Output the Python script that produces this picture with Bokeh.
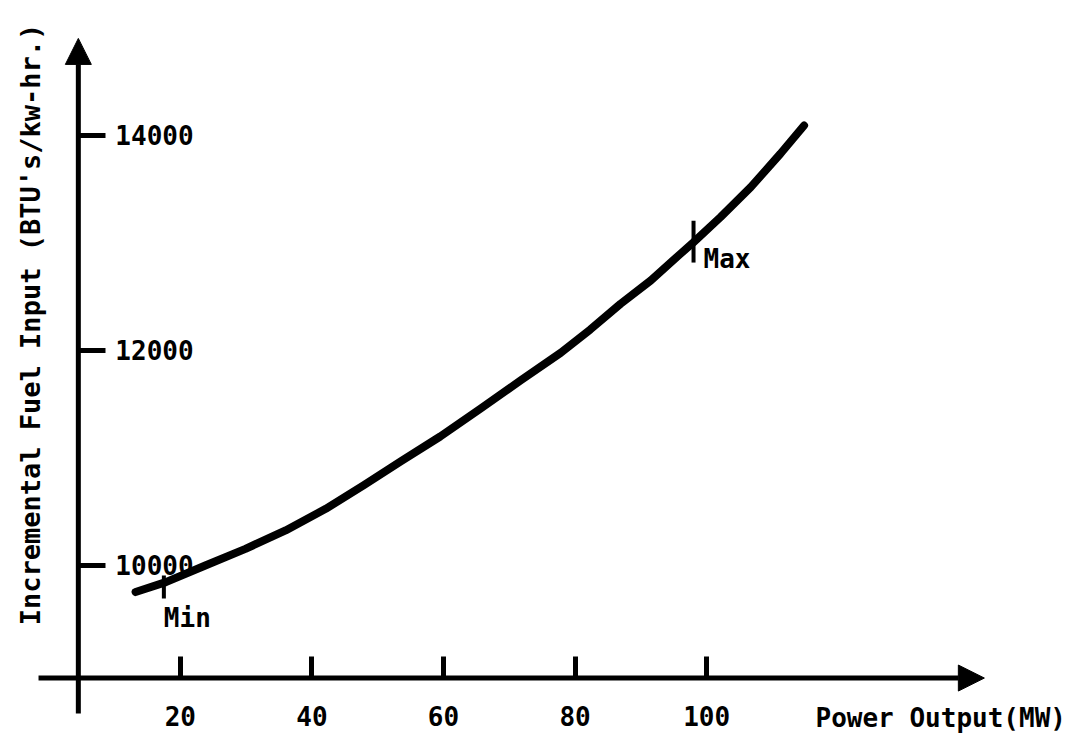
import math
from bokeh.plotting import figure
from bokeh.models import LinearAxis, FixedTicker, Arrow, NormalHead, Label, Range1d
from bokeh.core.properties import value
from bokeh.embed import file_html
from bokeh.resources import INLINE

# ---- data ----
power_mw = [13.2, 17.8, 23.8, 29.9, 36.0, 42.1, 47.9, 53.5, 59.5, 65.6, 71.7,
            77.8, 82.3, 86.9, 91.5, 96.0, 98.0, 102.1, 106.7, 111.2, 114.8]
fuel_btu = [9750, 9842, 9997, 10152, 10323, 10524, 10745, 10965, 11197, 11455, 11718,
            11975, 12192, 12431, 12648, 12896, 13004, 13237, 13516, 13827, 14090]
x_ticks = [20, 40, 60, 80, 100]
y_ticks = [10000, 12000, 14000]
marker_names = ["Min", "Max"]
marker_mw = [17.5, 98]
marker_low = [9690, 12815]
marker_high = [9905, 13205]
x_title = "Power Output(MW)"
y_title = "Incremental Fuel Input (BTU's/kw-hr.)"

FONT = "DejaVu Sans Mono"

# axis geometry (data units)
x_axis_at = 8950      # fuel value where the horizontal axis sits
y_axis_at = 4.5       # MW value where the vertical axis sits
x_axis_from, x_axis_to = -1.55, 142.2
y_axis_from, y_axis_to = 8620, 14900

p = figure(width=1079, height=748, output_backend="svg", toolbar_location=None,
           x_axis_type=None, y_axis_type=None,
           x_range=Range1d(-7.33, 156.66), y_range=Range1d(8294.7, 15252.7),
           min_border=0)
p.outline_line_color = None
p.grid.visible = False
p.background_fill_color = "white"
p.border_fill_color = "white"

# axis lines with arrow heads
p.add_layout(Arrow(end=NormalHead(size=26, fill_color="black", line_color="black", line_width=1),
                   x_start=x_axis_from, y_start=x_axis_at, x_end=x_axis_to, y_end=x_axis_at,
                   line_width=5, line_color="black"))
p.add_layout(Arrow(end=NormalHead(size=26, fill_color="black", line_color="black", line_width=1),
                   x_start=y_axis_at, y_start=y_axis_from, x_end=y_axis_at, y_end=y_axis_to,
                   line_width=5, line_color="black"))

# horizontal axis ticks + labels
xaxis = LinearAxis(fixed_location=x_axis_at, ticker=FixedTicker(ticks=x_ticks))
xaxis.axis_line_color = None
xaxis.major_tick_in = 22
xaxis.major_tick_out = 0
xaxis.minor_tick_line_color = None
xaxis.major_tick_line_width = 5
xaxis.major_tick_line_color = "black"
xaxis.major_label_standoff = 28
xaxis.major_label_text_font = FONT
xaxis.major_label_text_font_style = "bold"
xaxis.major_label_text_font_size = "26px"
xaxis.major_label_text_color = "black"
p.add_layout(xaxis, "below")

# vertical axis ticks + labels (labels to the right of the axis)
yaxis = LinearAxis(fixed_location=y_axis_at, ticker=FixedTicker(ticks=y_ticks))
yaxis.axis_line_color = None
yaxis.major_tick_in = 0
yaxis.major_tick_out = 27
yaxis.minor_tick_line_color = None
yaxis.major_tick_line_width = 5
yaxis.major_tick_line_color = "black"
yaxis.major_label_standoff = 10
yaxis.major_label_text_font = FONT
yaxis.major_label_text_font_style = "bold"
yaxis.major_label_text_font_size = "26px"
yaxis.major_label_text_color = "black"
p.add_layout(yaxis, "right")

# the curve
p.line(power_mw, fuel_btu, line_width=8, line_color="black", line_cap="round", line_join="round")

# Min / Max markers
p.segment(x0=marker_mw, y0=marker_low, x1=marker_mw, y1=marker_high,
          line_width=4, line_color="black")
p.text(x=[marker_mw[0]], y=[marker_low[0]], text=[marker_names[0]],
       text_font=value(FONT), text_font_style="bold", text_font_size="26px",
       text_align="left", text_baseline="top", y_offset=4, text_color="black")
p.text(x=[marker_mw[1]], y=[marker_low[1]], text=[marker_names[1]],
       text_font=value(FONT), text_font_style="bold", text_font_size="26px",
       text_align="left", text_baseline="middle", x_offset=10, y_offset=-4, text_color="black")

# axis titles
p.add_layout(Label(x=815, y=748 - 717, x_units="screen", y_units="screen", text=x_title,
                   text_font=FONT, text_font_style="bold", text_font_size="26px",
                   text_align="left", text_baseline="middle", text_color="black"))
p.add_layout(Label(x=30, y=748 - 324, x_units="screen", y_units="screen", text=y_title,
                   angle=math.pi / 2, text_font=FONT, text_font_style="bold",
                   text_font_size="27px", text_align="center", text_baseline="middle",
                   text_color="black"))

open("out.html", "w").write(file_html(p, INLINE))
